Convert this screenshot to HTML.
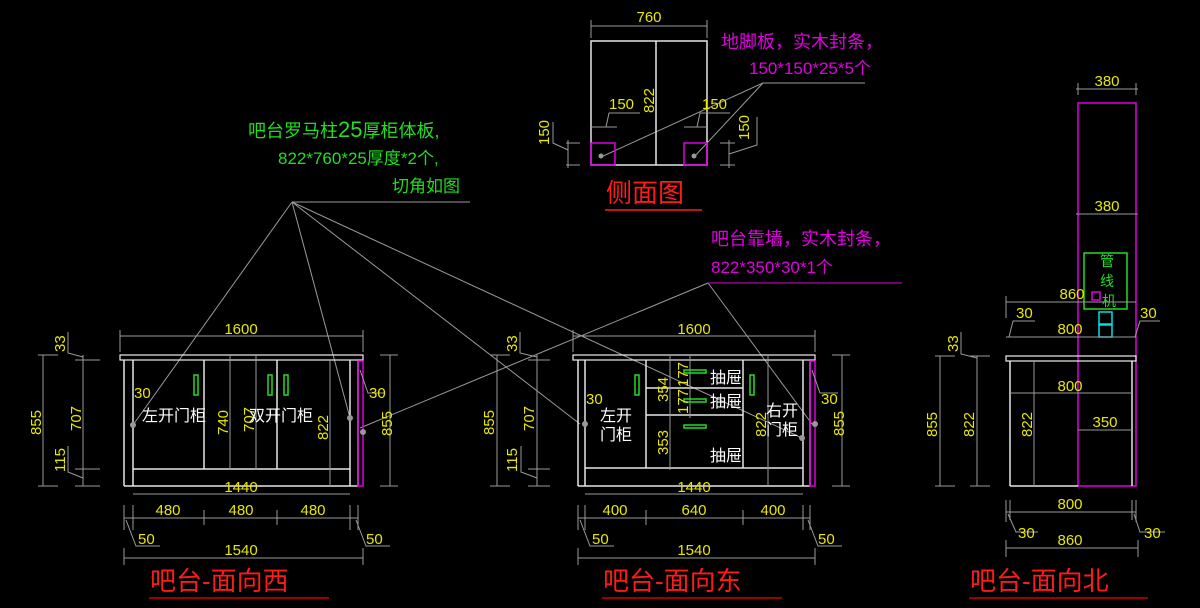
<!DOCTYPE html>
<html><head><meta charset="utf-8"><style>
html,body{margin:0;padding:0;background:#000;width:1200px;height:608px;overflow:hidden}
svg{display:block}
text{font-family:"Liberation Sans","Noto Sans CJK SC",sans-serif}
.d{fill:#e8e800;font-size:15px}
.w{fill:#fff;font-size:16px}
.g{stroke:#9a9a9a;stroke-width:1;fill:none}
.wl{stroke:#e6e6e6;stroke-width:1.5;fill:none}
.m{stroke:#e000e0;stroke-width:1.5;fill:none}
.gr{stroke:#22dd22;stroke-width:1.5;fill:none}
.t{fill:#ff1a1a;font-size:26px}
</style></head><body>
<svg width="1200" height="608" viewBox="0 0 1200 608" xmlns="http://www.w3.org/2000/svg">
<!-- leader lines -->
<g class="g">
<line x1="292" y1="202" x2="470" y2="202"/>
<line x1="292" y1="202" x2="133" y2="425"/>
<line x1="292" y1="202" x2="350" y2="418"/>
<line x1="292" y1="202" x2="580" y2="424"/>
<line x1="292" y1="202" x2="802" y2="438"/>
<line x1="708" y1="283" x2="360" y2="428"/>
<line x1="708" y1="283" x2="812" y2="424"/>
<line x1="763" y1="83" x2="601" y2="157"/>
<line x1="763" y1="83" x2="694" y2="157"/>
<line x1="763" y1="83" x2="865" y2="83"/>
</g>
<line x1="708" y1="283" x2="902" y2="283" stroke="#e000e0" stroke-width="1"/>
<!-- labels -->
<text x="248" y="137" fill="#22dd22" font-size="18">吧台罗马柱<tspan font-size="22">25</tspan>厚柜体板,</text>
<text x="278" y="164" fill="#22dd22" font-size="17">822*760*25厚度*2个,</text>
<text x="392" y="192" fill="#22dd22" font-size="17">切角如图</text>
<text x="721" y="48" fill="#e000e0" font-size="18">地脚板，实木封条，</text>
<text x="749" y="74" fill="#e000e0" font-size="17">150*150*25*5个</text>
<text x="711" y="245" fill="#e000e0" font-size="18">吧台靠墙，实木封条，</text>
<text x="711" y="273" fill="#e000e0" font-size="17">822*350*30*1个</text>

<!-- SIDE VIEW -->
<g class="wl"><rect x="591" y="41" width="116" height="124"/><line x1="656" y1="41" x2="656" y2="165"/></g>
<rect x="591" y="143" width="24" height="22" class="m"/><rect x="684" y="143" width="23" height="22" class="m"/>
<circle cx="601" cy="156" r="2.5" fill="#999"/><circle cx="694" cy="156" r="2.5" fill="#999"/>
<g class="g"><line x1="591" y1="26" x2="707" y2="26"/><line x1="591" y1="20" x2="591" y2="38"/><line x1="707" y1="20" x2="707" y2="38"/>
<line x1="591" y1="127" x2="617" y2="127"/><line x1="684" y1="127" x2="707" y2="127"/>
<line x1="566" y1="143" x2="580" y2="143"/><line x1="566" y1="165" x2="580" y2="165"/><line x1="568" y1="140" x2="568" y2="168"/>
<line x1="720" y1="143" x2="735" y2="143"/><line x1="720" y1="165" x2="735" y2="165"/><line x1="729" y1="140" x2="729" y2="168"/>
<polyline points="606,127 609,113 640,113"/><polyline points="697,127 700,113 730,113"/>
<polyline points="568,150 553,143 553,122"/><polyline points="729,154 757,145 757,117"/></g>
<text class="d" x="649" y="22" text-anchor="middle">760</text>
<text class="d" x="609" y="109">150</text><text class="d" x="702" y="109">150</text>
<text class="d" transform="translate(654,113) rotate(-90)">822</text>
<text class="d" transform="translate(549,145) rotate(-90)">150</text>
<text class="d" transform="translate(749,140) rotate(-90)">150</text>
<text class="t" x="606" y="202">侧面图</text>
<line x1="605" y1="210" x2="702" y2="210" stroke="#ff1a1a" stroke-width="1.5"/>

<!-- WEST VIEW -->
<rect x="120" y="355" width="243" height="5" fill="none" stroke="#eee" stroke-width="1.2"/>
<g class="wl"><line x1="124" y1="360" x2="124" y2="486"/><line x1="133" y1="360" x2="133" y2="486"/>
<line x1="124" y1="486" x2="358" y2="486"/><line x1="133" y1="469" x2="350" y2="469"/>
<line x1="204" y1="360" x2="204" y2="469"/><line x1="277" y1="360" x2="277" y2="469"/>
<line x1="350" y1="360" x2="350" y2="486"/><line x1="358" y1="360" x2="358" y2="486"/></g>
<rect x="358" y="361" width="5" height="125" class="m"/>
<g class="g"><line x1="230" y1="354" x2="230" y2="470"/><line x1="256" y1="354" x2="256" y2="470"/><line x1="330" y1="360" x2="330" y2="486"/></g>
<rect x="194" y="375" width="4" height="20" class="gr"/><rect x="268" y="375" width="4" height="20" class="gr"/><rect x="284" y="375" width="4" height="20" class="gr"/>
<circle cx="133" cy="425" r="3" fill="#999"/><circle cx="350" cy="418" r="3" fill="#999"/><circle cx="363" cy="432" r="3" fill="#999"/>
<g class="g">
<line x1="120" y1="336" x2="363" y2="336"/><line x1="120" y1="330" x2="120" y2="352"/><line x1="363" y1="330" x2="363" y2="352"/>
<line x1="133" y1="494" x2="350" y2="494"/>
<line x1="124" y1="518" x2="358" y2="518"/><line x1="124" y1="505" x2="124" y2="530"/><line x1="133" y1="505" x2="133" y2="530"/><line x1="204" y1="510" x2="204" y2="525"/><line x1="277" y1="510" x2="277" y2="525"/><line x1="350" y1="505" x2="350" y2="530"/><line x1="358" y1="505" x2="358" y2="530"/>
<line x1="124" y1="558" x2="363" y2="558"/><line x1="124" y1="548" x2="124" y2="565"/><line x1="363" y1="548" x2="363" y2="565"/>
<polyline points="126,520 136,546 160,546"/><polyline points="356,520 366,546 390,546"/>
<line x1="43" y1="355" x2="43" y2="486"/><line x1="38" y1="355" x2="58" y2="355"/><line x1="38" y1="486" x2="58" y2="486"/>
<line x1="83" y1="355" x2="83" y2="486"/><line x1="75" y1="360" x2="100" y2="360"/><line x1="75" y1="469" x2="100" y2="469"/><line x1="75" y1="486" x2="100" y2="486"/>
<polyline points="83,357 68,353 68,332"/><polyline points="83,478 68,472 68,446"/>
<line x1="390" y1="355" x2="390" y2="486"/><line x1="380" y1="355" x2="398" y2="355"/><line x1="380" y1="486" x2="398" y2="486"/>
<polyline points="360,370 368,393 385,393"/>
</g>
<text class="d" x="241" y="334" text-anchor="middle">1600</text>
<text class="d" x="241" y="492" text-anchor="middle">1440</text>
<text class="d" x="168" y="515" text-anchor="middle">480</text><text class="d" x="241" y="515" text-anchor="middle">480</text><text class="d" x="313" y="515" text-anchor="middle">480</text>
<text class="d" x="241" y="555" text-anchor="middle">1540</text>
<text class="d" x="138" y="544">50</text><text class="d" x="366" y="544">50</text>
<text class="d" x="134" y="398">30</text><text class="d" x="369" y="398">30</text>
<text class="d" transform="translate(41,435) rotate(-90)">855</text>
<text class="d" transform="translate(81,431) rotate(-90)">707</text>
<text class="d" transform="translate(65,472) rotate(-90)">115</text>
<text class="d" transform="translate(65,352) rotate(-90)">33</text>
<text class="d" transform="translate(392,436) rotate(-90)">855</text>
<text class="d" transform="translate(228,435) rotate(-90)">740</text>
<text class="d" transform="translate(254,432) rotate(-90)">707</text>
<text class="d" transform="translate(328,440) rotate(-90)">822</text>
<text class="w" x="142" y="421">左开门柜</text><text class="w" x="249" y="421">双开门柜</text>
<text class="t" x="150" y="590">吧台-面向西</text>
<line x1="149" y1="598" x2="329" y2="598" stroke="#c00" stroke-width="1.5"/>

<!-- EAST VIEW -->
<rect x="573" y="355" width="242" height="5" fill="none" stroke="#eee" stroke-width="1.2"/>
<g class="wl"><line x1="578" y1="360" x2="578" y2="486"/><line x1="585" y1="360" x2="585" y2="486"/>
<line x1="578" y1="486" x2="810" y2="486"/><line x1="585" y1="468" x2="803" y2="468"/>
<line x1="646" y1="360" x2="646" y2="468"/><line x1="743" y1="360" x2="743" y2="468"/>
<line x1="646" y1="388" x2="743" y2="388"/><line x1="646" y1="415" x2="743" y2="415"/>
<line x1="803" y1="360" x2="803" y2="486"/><line x1="810" y1="360" x2="810" y2="486"/></g>
<rect x="810" y="361" width="5" height="125" class="m"/>
<g class="g"><line x1="670" y1="356" x2="670" y2="470"/><line x1="690" y1="356" x2="690" y2="418"/><line x1="768" y1="356" x2="768" y2="486"/></g>
<rect x="635" y="375" width="4" height="20" class="gr"/><rect x="750" y="375" width="4" height="20" class="gr"/>
<rect x="684" y="370" width="22" height="3" class="gr"/><rect x="684" y="399" width="22" height="3" class="gr"/><rect x="684" y="425" width="22" height="3" class="gr"/>
<circle cx="585" cy="424" r="3" fill="#999"/><circle cx="802" cy="438" r="3" fill="#999"/><circle cx="815" cy="424" r="3" fill="#999"/>
<g class="g">
<line x1="573" y1="336" x2="815" y2="336"/><line x1="573" y1="330" x2="573" y2="352"/><line x1="815" y1="330" x2="815" y2="352"/>
<line x1="585" y1="494" x2="803" y2="494"/>
<line x1="578" y1="518" x2="810" y2="518"/><line x1="578" y1="505" x2="578" y2="530"/><line x1="585" y1="505" x2="585" y2="530"/><line x1="646" y1="510" x2="646" y2="525"/><line x1="743" y1="510" x2="743" y2="525"/><line x1="803" y1="505" x2="803" y2="530"/><line x1="810" y1="505" x2="810" y2="530"/>
<line x1="578" y1="558" x2="815" y2="558"/><line x1="578" y1="548" x2="578" y2="565"/><line x1="815" y1="548" x2="815" y2="565"/>
<polyline points="580,520 590,546 614,546"/><polyline points="808,520 818,546 842,546"/>
<line x1="497" y1="355" x2="497" y2="486"/><line x1="490" y1="355" x2="510" y2="355"/><line x1="490" y1="486" x2="510" y2="486"/>
<line x1="537" y1="355" x2="537" y2="486"/><line x1="528" y1="360" x2="550" y2="360"/><line x1="528" y1="469" x2="550" y2="469"/><line x1="528" y1="486" x2="550" y2="486"/>
<polyline points="537,357 520,353 520,332"/><polyline points="537,478 521,472 521,446"/>
<line x1="842" y1="355" x2="842" y2="486"/><line x1="832" y1="355" x2="850" y2="355"/><line x1="832" y1="486" x2="850" y2="486"/>
<polyline points="812,370 820,393 838,393"/>
</g>
<text class="d" x="694" y="334" text-anchor="middle">1600</text>
<text class="d" x="694" y="492" text-anchor="middle">1440</text>
<text class="d" x="615" y="515" text-anchor="middle">400</text><text class="d" x="694" y="515" text-anchor="middle">640</text><text class="d" x="773" y="515" text-anchor="middle">400</text>
<text class="d" x="694" y="555" text-anchor="middle">1540</text>
<text class="d" x="592" y="544">50</text><text class="d" x="818" y="544">50</text>
<text class="d" x="586" y="404">30</text><text class="d" x="821" y="404">30</text>
<text class="d" transform="translate(494,435) rotate(-90)">855</text>
<text class="d" transform="translate(534,431) rotate(-90)">707</text>
<text class="d" transform="translate(517,472) rotate(-90)">115</text>
<text class="d" transform="translate(517,352) rotate(-90)">33</text>
<text class="d" transform="translate(844,436) rotate(-90)">855</text>
<text class="d" transform="translate(668,402) rotate(-90)">354</text>
<text class="d" transform="translate(668,455) rotate(-90)">353</text>
<text class="d" transform="translate(688,387) rotate(-90)">177</text>
<text class="d" transform="translate(688,414) rotate(-90)">177</text>
<text class="d" transform="translate(766,437) rotate(-90)">822</text>
<text class="w" x="600" y="421">左开</text><text class="w" x="600" y="440">门柜</text>
<text class="w" x="766" y="416">右开</text><text class="w" x="766" y="435">门柜</text>
<text class="w" x="710" y="383">抽屉</text><text class="w" x="710" y="407">抽屉</text><text class="w" x="710" y="461">抽屉</text>
<text class="t" x="603" y="590">吧台-面向东</text>
<line x1="602" y1="598" x2="782" y2="598" stroke="#c00" stroke-width="1.5"/>

<!-- NORTH VIEW -->
<rect x="1078" y="103" width="58" height="383" class="m"/>
<rect x="1006" y="356" width="130" height="5" fill="none" stroke="#eee" stroke-width="1.2"/>
<g class="wl"><line x1="1010" y1="361" x2="1010" y2="486"/><line x1="1010" y1="486" x2="1078" y2="486"/><line x1="1132" y1="361" x2="1132" y2="486"/></g>
<rect x="1084" y="253" width="43" height="56" class="gr"/>
<rect x="1092" y="292" width="8" height="8" class="m"/>
<rect x="1099" y="312" width="13" height="12" fill="none" stroke="#00e0e0" stroke-width="1.5"/>
<rect x="1099" y="325" width="13" height="12" fill="none" stroke="#00e0e0" stroke-width="1.5"/>
<text x="1100" y="266" fill="#22dd22" font-size="14">管</text><text x="1100" y="286" fill="#22dd22" font-size="14">线</text><text x="1102" y="306" fill="#22dd22" font-size="14">机</text>
<g class="g">
<line x1="1076" y1="89" x2="1138" y2="89"/><line x1="1078" y1="83" x2="1078" y2="95"/><line x1="1136" y1="83" x2="1136" y2="95"/>
<line x1="1076" y1="214" x2="1138" y2="214"/>
<line x1="1006" y1="302" x2="1136" y2="302"/><line x1="1006" y1="296" x2="1006" y2="318"/>
<line x1="1006" y1="337" x2="1136" y2="337"/>
<line x1="1010" y1="393" x2="1132" y2="393"/><line x1="1078" y1="430" x2="1132" y2="430"/>
<line x1="1006" y1="512" x2="1136" y2="512"/><line x1="1006" y1="500" x2="1006" y2="522"/><line x1="1136" y1="500" x2="1136" y2="522"/><line x1="1010" y1="500" x2="1010" y2="520"/><line x1="1132" y1="500" x2="1132" y2="520"/>
<line x1="1006" y1="548" x2="1138" y2="548"/><line x1="1006" y1="540" x2="1006" y2="557"/><line x1="1138" y1="540" x2="1138" y2="557"/>
<polyline points="1009,337 1013,321 1035,321"/><polyline points="1135,337 1140,321 1160,321"/>
<polyline points="1008,514 1016,532 1038,532"/><polyline points="1134,514 1140,532 1165,532"/>
<line x1="940" y1="356" x2="940" y2="486"/><line x1="935" y1="356" x2="955" y2="356"/><line x1="935" y1="486" x2="955" y2="486"/>
<line x1="977" y1="356" x2="977" y2="486"/><line x1="970" y1="356" x2="990" y2="356"/><line x1="970" y1="486" x2="990" y2="486"/>
<polyline points="977,358 961,354 961,332"/>
<line x1="1034" y1="361" x2="1034" y2="486"/>
</g>
<text class="d" x="1107" y="86" text-anchor="middle">380</text>
<text class="d" x="1107" y="211" text-anchor="middle">380</text>
<text class="d" x="1072" y="299" text-anchor="middle">860</text>
<text class="d" x="1070" y="334" text-anchor="middle">800</text>
<text class="d" x="1070" y="391" text-anchor="middle">800</text>
<text class="d" x="1105" y="427" text-anchor="middle">350</text>
<text class="d" x="1070" y="509" text-anchor="middle">800</text>
<text class="d" x="1070" y="545" text-anchor="middle">860</text>
<text class="d" x="1016" y="318">30</text><text class="d" x="1140" y="318">30</text>
<text class="d" x="1018" y="538">30</text><text class="d" x="1144" y="538">30</text>
<text class="d" transform="translate(937,437) rotate(-90)">855</text>
<text class="d" transform="translate(974,437) rotate(-90)">822</text>
<text class="d" transform="translate(1032,437) rotate(-90)">822</text>
<text class="d" transform="translate(958,352) rotate(-90)">33</text>
<text class="t" x="970" y="590">吧台-面向北</text>
<line x1="969" y1="598" x2="1148" y2="598" stroke="#c00" stroke-width="1.5"/>
</svg>
</body></html>
